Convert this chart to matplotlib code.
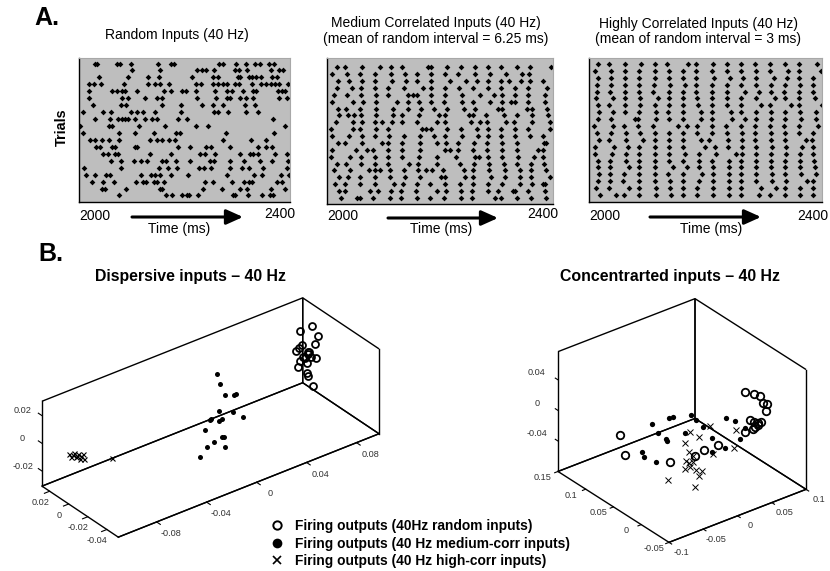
import matplotlib
matplotlib.use("Agg")
import matplotlib.pyplot as plt
from matplotlib.lines import Line2D
from matplotlib.transforms import ScaledTranslation

plt.rcParams["font.family"] = ["Liberation Sans", "DejaVu Sans"]
plt.rcParams["axes.unicode_minus"] = False

W, H = 830, 571

# Spike times (ms after 2000) per trial, top row first
random_trials = [
    [30,35,73,78,99,150,175,181,266,273,299,318,335,344,360,370],
    [101,155,224,234,241,257,296,304,319,365,379,387],
    [39,94,131,152,214,254,264,302,306,322,329,336,346,367,375],
    [20,29,42,85,131,145,155,171,222,231,254,264,273,282,296,304,329,346,355,364,372,379,396],
    [19,64,73,82,88,111,161,175,195,203,223,258,281,291,312,330,336,377,386,392],
    [20,83,93,125,149,157,224,260,281,286,306,317,331,379,394],
    [28,80,90,157,194,233,254,274,316,334],
    [8,47,61,100,111,121,145,193,256,265,283,317,339],
    [30,59,75,82,88,94,107,126,139,149,188,205,369],
    [3,58,64,115,164,222,245,391],
    [8,77,106,142,185,192,279,370],
    [21,31,44,58,77,135,148,157,172,182,273,326,356],
    [32,41,63,69,106,111,189,211,241,250,286,339,356,366],
    [47,56,69,75,136,175,230,240,258,305,324,331,339,372,394],
    [62,81,105,118,129,157,165,185,211,249,257,287,313,343,366,396],
    [10,80,152,169,186,228,238,250,286,309,322,349,394],
    [13,30,51,59,119,138,144,154,175,208,281,332,347,384,399],
    [26,47,67,109,121,127,142,149,161,240,255,291,314,322,329,375,386],
    [44,49,90,154,157,235,271,306,319,364,392],
    [76,166,176,195,205,210,227,292,296,320,348,362,369],
]
medium_trials = [
    [17,32,62,94,113,133,178,183,212,236,261,284,308,335,359,396],
    [8,35,57,84,113,137,158,183,209,232,262,288,317,344,357],
    [19,38,61,84,114,139,158,183,217,245,265,284,308,322,342,358,382],
    [18,44,60,85,108,135,169,183,209,233,258,284,308,333,356,388],
    [12,34,59,87,108,142,151,159,183,209,238,270,295,309,333,356,386],
    [9,46,63,87,124,143,162,183,206,238,258,288,309,326,333,356,386],
    [19,33,58,86,117,143,165,188,211,242,261,302,309,353,362,388],
    [20,36,48,59,87,116,132,163,198,208,250,257,281,312,336,362,391],
    [15,46,61,84,96,114,132,159,194,208,254,271,282,317,330,363,394],
    [7,45,57,86,107,167,175,183,211,237,265,284,308,333,356,395],
    [9,38,61,84,110,136,164,189,208,238,266,284,308,333,359,382],
    [19,32,62,97,107,133,164,195,210,232,260,283,310,336,383,387],
    [8,50,70,81,107,133,164,208,218,232,258,283,310,336,373,381],
    [7,41,59,84,108,132,162,194,227,261,269,284,310,337,365,382],
    [18,33,59,84,108,144,160,195,234,260,286,312,336,360,384],
    [12,40,74,84,94,111,136,160,175,186,205,242,258,286,314,341,361,387],
    [21,37,58,84,111,137,164,201,208,244,258,290,315,341,361,394],
    [14,32,58,84,118,134,159,182,208,235,257,284,310,341,362,382,386],
    [21,31,76,90,112,131,157,194,210,236,256,284,302,329,333,356,386],
    [25,52,57,81,111,131,158,182,206,236,256,297,308,336,361,387],
]
high_trials = [
    [15,34,62,89,112,134,169,184,213,237,261,284,311,336,360,391],
    [9,37,61,86,113,136,160,184,211,236,261,287,311,341,360,397],
    [15,38,61,85,112,137,160,184,214,241,264,286,317,340,360,384],
    [14,38,62,86,111,138,164,184,210,236,260,287,312,336,361,384],
    [13,35,62,86,110,137,160,184,210,237,267,292,312,334,360,384],
    [11,41,62,87,118,137,160,185,210,236,261,286,319,336,360,388],
    [15,34,62,87,112,137,160,187,210,237,261,295,311,346,360,399],
    [16,41,62,85,114,135,160,191,210,244,260,286,312,336,361,389],
    [15,37,79,84,114,136,160,191,210,245,267,286,312,336,363,390],
    [8,40,59,84,109,152,167,185,210,234,261,285,310,335,360,392],
    [14,38,63,87,112,136,161,185,210,237,262,285,312,336,360,384],
    [16,34,63,93,112,136,161,191,206,238,262,285,312,336,372,383],
    [10,43,67,85,112,136,161,198,215,238,262,286,313,337,366,384],
    [10,39,63,86,112,136,165,188,218,252,262,287,312,337,361,384],
    [15,36,63,86,112,136,161,189,210,239,260,286,312,336,361,385],
    [15,36,68,86,112,143,167,189,212,240,261,287,312,336,361,388],
    [16,36,59,86,112,135,160,193,212,240,260,287,313,336,363,390],
    [15,36,58,86,113,138,161,188,212,239,261,287,313,337,374,384],
    [11,34,68,85,114,138,161,185,212,239,261,294,320,336,361,384],
    [18,45,59,86,115,140,161,185,213,239,261,292,311,336,362,384],
]

# Dispersive inputs, 3D output points
disp_open_x = [.0872,.0776,.0917,.0896,.0792,.0771,.0742,.0843,.0837,.0819,.0864,.0907,.0776,.0829,.0758,.0832,.0843,.0877,.0851,.0803]
disp_open_y = [.004] * 20
disp_open_z = [.0252,.0250,.0158,.0113,.0140,.0129,.0117,.0071,.0061,.0039,.0027,.0007,.0030,-.0004,-.0002,-.0075,-.0103,-.0188,.0073,.0049]
disp_fill_x = [-.0014,.0010,.0055,.0125,.0143,.0005,.0117,.0199,-.0064,-.0059,.0002,.0029,-.0104,.0032,.0045,-.0035,-.0088,.0055,-.0144]
disp_fill_y = [-.012] * 19
disp_fill_z = [.0294,.0213,.0114,.0096,.0092,.0023,-.0029,-.0095,-.0022,-.0016,-.0053,-.0048,-.0075,-.0180,-.0185,-.0192,-.0204,-.0256,-.0257]
disp_x_x = [-.0950,-.0934,-.0910,-.0894,-.0876,-.0862,-.0841,-.0830,-.0921,-.0854,-.0884,-.0604]
disp_x_y = [.02] * 12
disp_x_z = [-.0094,-.0123,-.0101,-.0138,-.0120,-.0162,-.0133,-.0173,-.0116,-.0145,-.0137,-.0250]

# Concentrated inputs, 3D output points
conc_open_x = [-.0580,-.0508,.0147,.0678,.0809,.0901,.0935,.0993,.0984,.0756,.0814,.0916,.0867,.0828,.0790,.0673,.0280,.0072,-.0049,.0862]
conc_open_y = [.09] * 3 + [.02] * 17
conc_open_z = [-.0192,-.0481,-.0798,.0264,.0189,.0127,.0025,-.0008,-.0087,-.0135,-.0172,-.0207,-.0229,-.0242,-.0259,-.0254,-.0294,-.0292,-.0320,-.0206]
conc_fill_x = [.0132,.0205,.0647,.0778,-.0129,-.0192,-.0440,-.0348,.0045,.0307,.0438,.0841,.0913,-.0236,-.0222,-.0580,-.0556,-.0386,.0438,.0632]
conc_fill_y = [.05] * 20
conc_fill_z = [.0007,-.0082,-.0210,-.0285,.0079,.0079,.0090,-.0058,-.0192,-.0203,-.0391,-.0554,-.0431,-.0174,-.0206,-.0226,-.0300,-.0422,-.0573,-.0600]
conc_x_x = [-.0202,-.0076,-.0280,-.0222,.0079,.0457,.0433,.0128,-.0163,-.0270,-.0222,-.0163,-.0275,-.0202,-.0125,-.0028,-.0076,-.0522,-.0139]
conc_x_y = [.01] * 19
conc_x_z = [.0091,-.0013,-.0021,-.0171,.0073,-.0116,-.0342,-.0307,-.0234,-.0262,-.0310,-.0312,-.0369,-.0372,-.0429,-.0479,-.0523,-.0428,-.0653]

legend_labels = ["Firing outputs (40Hz random inputs)",
                 "Firing outputs (40 Hz medium-corr inputs)",
                 "Firing outputs (40 Hz high-corr inputs)"]

fig = plt.figure(figsize=(W / 100, H / 100), dpi=100)


def label(x, y, s, **kw):
    # x, y in reference pixels, origin top left
    kw.setdefault("ha", "center")
    kw.setdefault("va", "center")
    fig.text(x / W, 1 - y / H, s, **kw)


def raster(box, trials, ylim):
    left, top, right, bottom = box
    ax = fig.add_axes([left / W, 1 - bottom / H, (right - left) / W, (bottom - top) / H])
    ax.set_facecolor("#bebebe")
    for i, times in enumerate(trials):
        ax.plot(times, [i + 1] * len(times), ls="none", marker="D", ms=2.9, color="k", mew=0)
    ax.set_xlim(0, 400)
    ax.set_ylim(*ylim)
    ax.set_xticks([])
    ax.set_yticks([])
    for side in ["top", "right"]:
        ax.spines[side].set_color("#a8a8a8")
    for side in ["left", "bottom"]:
        ax.spines[side].set_color("k")
        ax.spines[side].set_linewidth(1.0)
    return ax


raster((78.7, 58, 289.7, 201.7), random_trials, (20.9, 0.2))
raster((327.3, 58.3, 553.3, 204.3), medium_trials, (20.92, -0.3))
raster((589.3, 58, 822.3, 202), high_trials, (21.02, 0.13))

tf = 10
label(177, 35, "Random Inputs (40 Hz)", fontsize=tf)
label(436, 22.5, "Medium Correlated Inputs (40 Hz)", fontsize=tf)
label(436, 39, "(mean of random interval = 6.25 ms)", fontsize=tf)
label(698, 24, "Highly Correlated Inputs (40 Hz)", fontsize=tf)
label(698, 39, "(mean of random interval = 3 ms)", fontsize=tf)

for x0, x1, y0, y1, ax0, ax1, ay, tx in [
    (79, 295, 216, 214, 132, 243, 217, 179),
    (327, 558, 216, 214, 388, 498, 218, 441),
    (589, 828, 216, 216, 650, 761, 217, 711),
]:
    label(x0, y0, "2000", ha="left", fontsize=tf)
    label(x1, y1, "2400", ha="right", fontsize=tf)
    label(tx, 229, "Time (ms)", fontsize=tf)
    fig.add_artist(plt.Annotation("", xy=(ax1 / W, 1 - ay / H), xytext=(ax0 / W, 1 - ay / H),
                                  xycoords="figure fraction", textcoords="figure fraction",
                                  arrowprops=dict(arrowstyle="-|>,head_length=1.0,head_width=0.45",
                                                  lw=2.2, color="k", shrinkA=0, shrinkB=0)))

label(62, 127, "Trials", rotation=90, fontweight="bold", fontsize=10.4)
label(47, 18, "A.", fontweight="bold", fontsize=18)
label(51, 254, "B.", fontweight="bold", fontsize=18)
label(190, 276, "Dispersive inputs \u2013 40 Hz", fontweight="bold", fontsize=11.4)
label(670, 276, "Concentrarted inputs \u2013 40 Hz", fontweight="bold", fontsize=11.4)


def shift_labels(ax, axis, dx, dy):
    # Axis3D resets tick transforms whenever it fetches its ticks
    shift = ScaledTranslation(dx / 100, -dy / 100, fig.dpi_scale_trans)
    get_ticks = axis.get_major_ticks

    def shifted(numticks=None):
        ticks = get_ticks(numticks)
        for tick in ticks:
            tick.label1.set_transform(ax.transData + shift)
        return ticks

    axis.get_major_ticks = shifted


def cube(cx, cy, side, zoom, aspect, elev, azim, lims, ticks, ticklabels, tick_len, nudges):
    # cx, cy: wanted box centre in reference pixels
    left = cx - 0.5135 * side
    bottom = H - cy - 0.5135 * side
    ax = fig.add_axes([left / W, bottom / H, side / W, side / H], projection="3d", proj_type="ortho")
    ax.patch.set_alpha(0)
    ax.view_init(elev=elev, azim=azim)
    ax.set_box_aspect(aspect, zoom=zoom)
    ax.grid(False)
    for axis, t, tl, n, tlen in zip([ax.xaxis, ax.yaxis, ax.zaxis], ticks, ticklabels, nudges, tick_len):
        axis.pane.set_alpha(None)
        axis.pane.set_facecolor((1, 1, 1, 0))
        axis.pane.set_edgecolor((0, 0, 0, 1))
        axis.pane.set_linewidth(1.0)
        axis.line.set_color("k")
        axis.line.set_linewidth(1.0)
        axis.set_ticks(t)
        axis.set_ticklabels(tl, fontsize=6.6, color="#333333")
        # for this view the x and y ticks only point out of the box as "inward"
        axis._axinfo["tick"]["inward_factor"] = tlen if axis is not ax.zaxis else 0
        axis._axinfo["tick"]["outward_factor"] = tlen if axis is ax.zaxis else 0
        axis.set_tick_params(pad=2, width=0.7, color="k")
        shift_labels(ax, axis, *n)
    # z ticks point along the y axis here, not along x
    ax.zaxis._get_tickdir = lambda position: 1
    # the pane outline leaves this upright open
    ax.plot([lims[0][1]] * 2, [lims[1][0]] * 2, lims[2], color="k", lw=1.0)
    ax.set_xlim(*lims[0])
    ax.set_ylim(*lims[1])
    ax.set_zlim(*lims[2])
    return ax


ax1 = cube(210.5, 417.5, 400, 0.8875, (329, 125, 99), 31, -127.6,
           [(-.1107, .098), (-.052, .028), (-.0309, .0304)],
           [[-.08, -.04, 0, .04, .08], [-.04, -.02, 0, .02], [-.02, 0, .02]],
           [["-0.08", "-0.04", "0", "0.04", "0.08"], ["-0.04", "-0.02", "0", "0.02"], ["-0.02", "0", "0.02"]],
           (0.6, 0.25, 0.6), [(9, -2), (8, -6), (3, -13)])
ax1.plot(disp_open_x, disp_open_y, disp_open_z, ls="none", marker="o", ms=5, mfc="none", mec="k", mew=1.3)
ax1.plot(disp_fill_x, disp_fill_y, disp_fill_z, ls="none", marker="o", ms=3.6, color="k", mew=0)
ax1.plot(disp_x_x, disp_x_y, disp_x_z, ls="none", marker="x", ms=3.6, color="k", mew=0.8)

ax2 = cube(682, 420.5, 300, 0.926, (173.6, 180.7, 138), 29.8, -127.9,
           [(-.1, .1), (-.05, .15), (-.0798, .0768)],
           [[-.1, -.05, 0, .05, .1], [-.05, 0, .05, .1, .15], [-.04, 0, .04]],
           [["-0.1", "-0.05", "0", "0.05", "0.1"], ["-0.05", "0", "0.05", "0.1", "0.15"], ["-0.04", "0", "0.04"]],
           (0.3, 0.3, 0.3), [(3, -11.5), (-3, -14), (1, -10)])
ax2.plot(conc_open_x, conc_open_y, conc_open_z, ls="none", marker="o", ms=5.4, mfc="none", mec="k", mew=1.3)
ax2.plot(conc_fill_x, conc_fill_y, conc_fill_z, ls="none", marker="o", ms=3.8, color="k", mew=0)
ax2.plot(conc_x_x, conc_x_y, conc_x_z, ls="none", marker="x", ms=4.6, color="k", mew=0.7)

handles = [
    Line2D([], [], ls="none", marker="o", ms=6, mfc="none", mec="k", mew=1.4),
    Line2D([], [], ls="none", marker="o", ms=7, color="k", mew=0),
    Line2D([], [], ls="none", marker="x", ms=5.5, color="k", mew=1.2),
]
fig.legend(handles, legend_labels, loc="upper left", bbox_to_anchor=(270 / W, 1 - 519 / H),
           frameon=False, prop=dict(weight="bold", size=9.95), labelspacing=0.26,
           handlelength=1.0, handletextpad=0.8, borderpad=0, borderaxespad=0)

fig.savefig("out.png", dpi=100)
